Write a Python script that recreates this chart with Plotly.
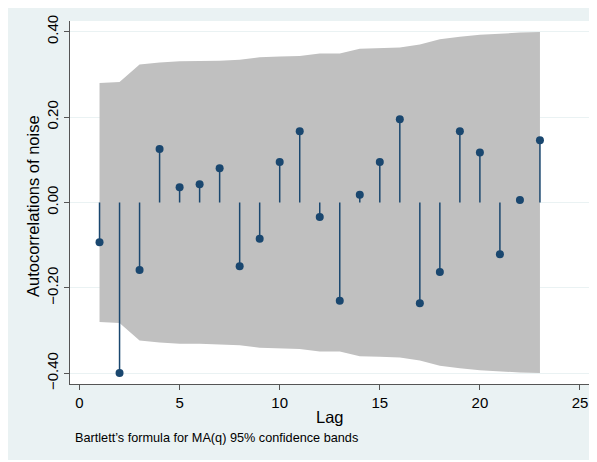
import plotly.graph_objects as go

lags = list(range(1, 24))
acf = [-0.093, -0.399, -0.158, 0.125, 0.036, 0.043, 0.080, -0.149, -0.085, 0.095,
       0.167, -0.034, -0.230, 0.018, 0.095, 0.195, -0.236, -0.163, 0.167, 0.117,
       -0.121, 0.006, 0.146]
band_upper = [0.280, 0.282, 0.323, 0.328, 0.331, 0.331, 0.332, 0.334, 0.340, 0.342,
              0.343, 0.349, 0.349, 0.360, 0.361, 0.363, 0.370, 0.382, 0.388, 0.393,
              0.395, 0.398, 0.399]
band_lower = [-v for v in band_upper]
x_ticks = [0, 5, 10, 15, 20, 25]
y_ticks = [-0.4, -0.2, 0.0, 0.2, 0.4]
y_ticktext = ["\u22120.40", "\u22120.20", "0.00", "0.20", "0.40"]

NAVY = "#1a476f"
FONT = "Liberation Sans"
BG = "#eaf2f3"

fig = go.Figure()

# confidence band
fig.add_trace(go.Scatter(
    x=lags + lags[::-1],
    y=band_upper + band_lower[::-1],
    fill="toself", fillcolor="#c0c0c0",
    line=dict(width=0), mode="lines", hoverinfo="skip", showlegend=False))

# stems
sx, sy = [], []
for l, v in zip(lags, acf):
    sx += [l, l, None]
    sy += [0, v, None]
fig.add_trace(go.Scatter(x=sx, y=sy, mode="lines",
                         line=dict(color=NAVY, width=1.5), showlegend=False))

# dots
fig.add_trace(go.Scatter(x=lags, y=acf, mode="markers",
                         marker=dict(color=NAVY, size=8), showlegend=False))

# figure is placed at page offset (8, 8) by the default body margin
OFF = 8
W, H = 586, 452
L, R, T, B = 70 - OFF, 3, 21 - OFF, 76
pw, ph = W - L - R, H - T - B

def px(x):
    return (x - OFF - L) / pw

def py(y):
    return (H - B - (y - OFF)) / ph

fig.add_annotation(text="Bartlett\u2019s formula for MA(q) 95% confidence bands",
                   xref="paper", yref="paper", x=px(73), y=py(438),
                   xanchor="left", yanchor="middle", showarrow=False,
                   font=dict(family=FONT, size=12.7, color="#000000"))
fig.add_annotation(text="Lag", xref="paper", yref="paper", x=px(330), y=py(417),
                   xanchor="center", yanchor="middle", showarrow=False,
                   font=dict(family=FONT, size=16.5, color="#000000"))
fig.add_annotation(text="Autocorrelations of noise", xref="paper", yref="paper",
                   x=px(33), y=py(206), textangle=-90,
                   xanchor="center", yanchor="middle", showarrow=False,
                   font=dict(family=FONT, size=16.5, color="#000000"))

fig.update_layout(
    width=W, height=H,
    margin=dict(l=L, r=R, t=T, b=B, autoexpand=False),
    paper_bgcolor=BG, plot_bgcolor="#ffffff",
    font=dict(family=FONT, color="#000000"),
    showlegend=False,
)
fig.update_xaxes(
    range=[-0.475, 25.55], tickvals=x_ticks, ticks="outside", ticklen=5,
    tickcolor="#555555", showline=True, linecolor="#555555", linewidth=1.3,
    showgrid=False, zeroline=False, tickfont=dict(size=15), automargin=False,
)
fig.update_yaxes(
    range=[-0.425, 0.425], tickvals=y_ticks, ticktext=y_ticktext, tickangle=-90,
    ticks="outside", ticklen=5, tickcolor="#555555", showline=True,
    linecolor="#555555", linewidth=1.3, showgrid=True, gridcolor=BG,
    gridwidth=1.3, zeroline=False, tickfont=dict(size=15), automargin=False,
)

fig.write_html("out.html")
